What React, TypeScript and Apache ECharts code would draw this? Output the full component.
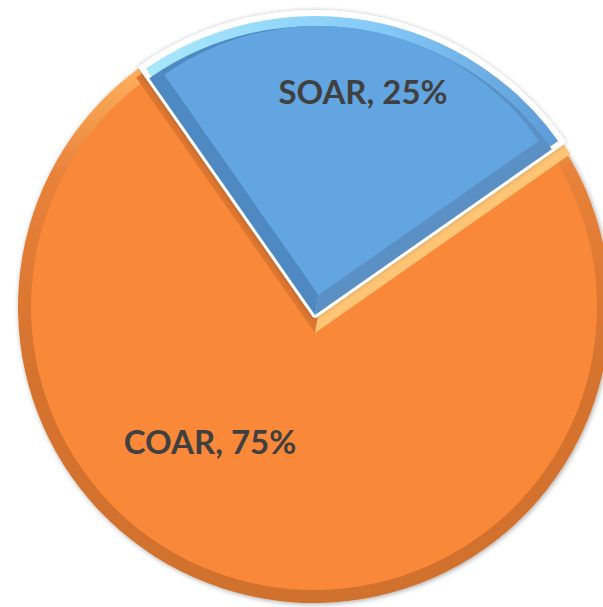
import React, { useEffect, useRef } from "react";
import * as echarts from "echarts";

// ---- data ----
const categories = ["SOAR", "COAR"];
const values = [25, 75];

// ---- styling / layout constants ----
const START_ANGLE = 125;
const ORANGE_CENTER = [314, 307];
const ORANGE_R = 296;
const BLUE_CENTER = [315, 315];
const BLUE_R = 302;
const LABEL_POS = [
  [363, 91],
  [210, 441],
];
const CLEAR = "rgba(0,0,0,0)";

export default function App() {
  const ref = useRef<HTMLDivElement>(null);

  useEffect(() => {
    if (!ref.current) return;
    const chart = echarts.init(ref.current, undefined, { renderer: "svg" });

    const common = {
      type: "pie",
      silent: true,
      startAngle: START_ANGLE,
      clockwise: true,
      avoidLabelOverlap: false,
      label: { show: false },
      labelLine: { show: false },
      emphasis: { disabled: true },
      itemStyle: { borderWidth: 0 },
    };

    const soar = values[0];
    const coar = values[1];

    const orangeRim = new echarts.graphic.LinearGradient(0, 0, 0, 1, [
      { offset: 0, color: "#ffb25f" },
      { offset: 0.2, color: "#e9823a" },
      { offset: 0.55, color: "#d6732f" },
      { offset: 1, color: "#d0712f" },
    ]);
    const blueRim = new echarts.graphic.LinearGradient(0, 0, 1, 0, [
      { offset: 0, color: "#a9e9fc" },
      { offset: 0.55, color: "#86cbf8" },
      { offset: 1, color: "#5c9ad6" },
    ]);

    const option = {
      animation: false,
      series: [
        {
          ...common,
          name: "orangeRim",
          center: ORANGE_CENTER,
          radius: ORANGE_R,
          data: [
            { name: categories[0], value: soar, itemStyle: { color: CLEAR } },
            {
              name: categories[1],
              value: coar,
              itemStyle: {
                color: orangeRim,
                shadowBlur: 5,
                shadowColor: "rgba(0,0,0,0.35)",
                shadowOffsetX: 1,
                shadowOffsetY: 1,
              },
            },
          ],
        },
        {
          ...common,
          name: "orangeFace",
          center: ORANGE_CENTER,
          radius: ORANGE_R - 13,
          data: [
            { name: categories[0], value: soar, itemStyle: { color: CLEAR } },
            { name: categories[1], value: coar, itemStyle: { color: "#f98839" } },
          ],
        },
        {
          ...common,
          name: "edgeBand",
          center: [315, 333],
          radius: 312,
          data: [
            { name: "a", value: soar / 2, itemStyle: { color: "#dc7631" } },
            { name: "b", value: soar / 2, itemStyle: { color: "#ffc575" } },
            { name: categories[1], value: coar, itemStyle: { color: CLEAR } },
          ],
        },
        {
          ...common,
          name: "blueRim",
          center: BLUE_CENTER,
          radius: BLUE_R,
          data: [
            {
              name: categories[0],
              value: soar,
              itemStyle: {
                color: blueRim,
                borderColor: "#ffffff",
                borderWidth: 6,
                shadowBlur: 4,
                shadowColor: "rgba(0,0,0,0.25)",
              },
            },
            { name: categories[1], value: coar, itemStyle: { color: CLEAR } },
          ],
        },
        {
          ...common,
          name: "blueBevel",
          center: BLUE_CENTER,
          radius: BLUE_R - 13,
          data: [
            { name: "a", value: soar / 2, itemStyle: { color: "#4f89c2" } },
            { name: "b", value: soar / 2, itemStyle: { color: "#5a90c3" } },
            { name: categories[1], value: coar, itemStyle: { color: CLEAR } },
          ],
        },
        {
          ...common,
          name: "blueFace",
          center: [318.5, 295],
          radius: 269,
          label: {
            show: true,
            position: "inside",
            formatter: "{b}, {d}%",
            color: "#404040",
            fontFamily: "Lato",
            fontWeight: "bold",
            fontSize: 33,
          },
          labelLayout: (p: any) => ({
            x: LABEL_POS[p.dataIndex][0],
            y: LABEL_POS[p.dataIndex][1],
            align: "center",
            verticalAlign: "middle",
          }),
          data: [
            { name: categories[0], value: soar, itemStyle: { color: "#63a5e0" } },
            { name: categories[1], value: coar, itemStyle: { color: CLEAR } },
          ],
        },
      ],
    };

    chart.setOption(option as any);
    return () => chart.dispose();
  }, []);

  return (
    <div
      ref={ref}
      style={{ position: "absolute", left: 0, top: 0, width: 603, height: 607 }}
    />
  );
}
